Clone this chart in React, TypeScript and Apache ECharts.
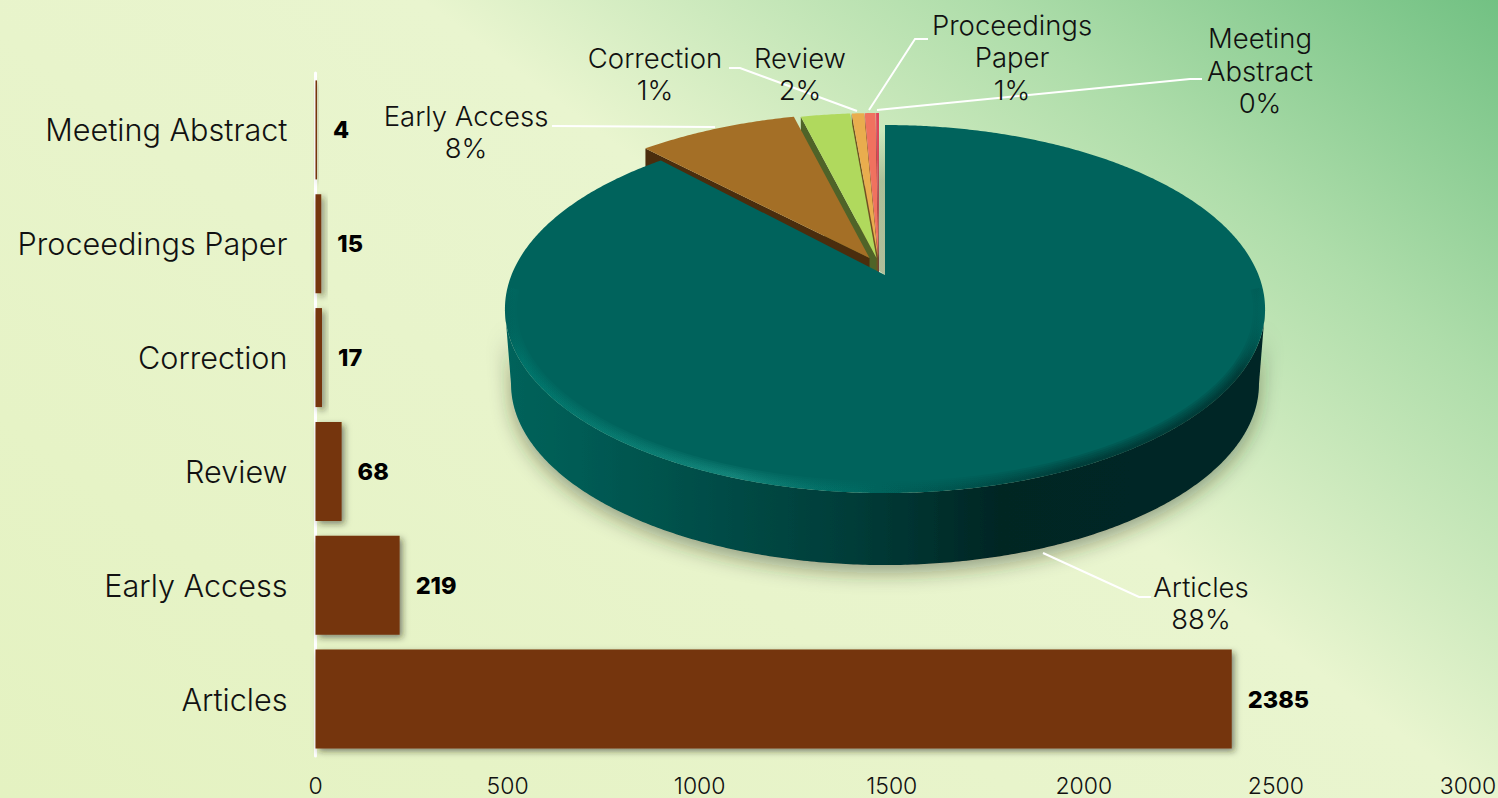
import React, { useEffect, useRef } from "react";
import * as echarts from "echarts";

// ---- data ----
const categories = ["Articles", "Early Access", "Review", "Correction", "Proceedings Paper", "Meeting Abstract"];
const documentCounts = [2385, 219, 68, 17, 15, 4];
const pieLabels = ["Articles\n88%", "Early Access\n8%", "Review\n2%", "Correction\n1%", "Proceedings\nPaper\n1%", "Meeting\nAbstract\n0%"];
const axisMax = 3000;
const axisStep = 500;

// ---- styles & layout ----
const FONT = "Inter, Lato, sans-serif";
const sliceTop = ["#00635c", "#a46f26", "#b0d95d", "#e9ad4e", "#f0725f", "#e0445c"];
const sliceWall = ["#003f3b", "#4a2d0d", "#4f6328", "#6e5222", "#7d3c30", "#7a2530"];
const sliceShift = [0, -15.5, -8.5, -7, -6.5, -6];
const labelCenter = [[1201, 603], [466, 132], [800, 74], [655, 74], [1012, 57], [1260, 70.5]];
const leaders = [
  [[1043, 553], [1139, 597], [1151, 597]],
  [[552, 126], [715, 127]],
  [],
  [[729, 68], [740, 68], [857, 111]],
  [[928, 39], [915, 39], [869, 110]],
  [[877, 110], [1190, 79], [1202, 79]],
];

const CX = 885, APEX_Y = 275, R = 373.5, K = 177.7, P = 0.185;
const BOTTOM_SCALE = 0.984, DEPTH = 75.5;

const total = documentCounts.reduce((a, b) => a + b, 0);
const startAngles: number[] = [];
documentCounts.reduce((acc, v, i) => {
  startAngles[i] = acc;
  return acc + (v / total) * 360;
}, 0);

function project(deg: number, level: 0 | 1, dx = 0, dy = 0): number[] {
  const t = (deg * Math.PI) / 180;
  const u = Math.sin(t), v = -Math.cos(t);
  const s = 1 / (1 - P * v);
  const scale = level ? BOTTOM_SCALE : 1;
  return [CX + R * u * s * scale + dx, APEX_Y + K * v * s * scale + (level ? DEPTH : 0) + dy];
}

function arc(a: number, b: number, level: 0 | 1, dx = 0, dy = 0) {
  const pts: number[][] = [];
  const n = Math.max(2, Math.ceil(Math.abs(b - a) * 2));
  for (let i = 0; i <= n; i++) pts.push(project(a + ((b - a) * i) / n, level, dx, dy));
  return pts;
}

const renderSlice = (params: any, api: any) => {
  const i = params.dataIndex;
  const start = startAngles[i];
  const end = start + (api.value(0) / total) * 360;
  const dx = sliceShift[i];
  const children: any[] = [];
  const poly = (points: number[][], style: any, z2: number) =>
    children.push({ type: "polygon", shape: { points }, style, z2, silent: true });

  if (i === 0) {
    const leftExt = 259.3, rightExt = 100.7;
    const front = arc(rightExt, leftExt, 0);
    const frontBottom = arc(leftExt, rightExt, 1);
    poly([...front, ...frontBottom], {
      fill: new echarts.graphic.LinearGradient(1, 0, 0, 0, [
        { offset: 0, color: "#012826" },
        { offset: 0.35, color: "#012624" },
        { offset: 0.55, color: "#003d39" },
        { offset: 0.8, color: "#00534d" },
        { offset: 1, color: "#00635b" },
      ]),
      shadowBlur: 20,
      shadowColor: "rgba(40,50,20,0.42)",
      shadowOffsetX: 0,
      shadowOffsetY: 8,
    }, 20);
    // shaded gap beside the big slice's straight edge
    poly([[CX - 7, 130], [CX, 130], [CX, APEX_Y], [CX - 7, APEX_Y - 5]], {
      fill: new echarts.graphic.LinearGradient(0, 0, 0, 1, [
        { offset: 0, color: "rgba(90,100,70,0)" },
        { offset: 0.35, color: "rgba(90,100,70,0.33)" },
        { offset: 1, color: "rgba(90,100,70,0.36)" },
      ]),
    }, 13);
    poly([[CX, APEX_Y], ...arc(start, end, 0)], { fill: sliceTop[0] }, 21);
    // soft bevel along the front rim, tapering out at both silhouette ends
    const rim = arc(94, 266, 0);
    const bevel = (width: number, alpha: number) =>
      children.push({
        type: "polyline",
        shape: {
          points: rim.map(([x, y]) => {
            const inset = width / 2;
            return [CX + (x - CX) * (1 - inset / 380), 309 + (y - 309) * (1 - inset / 184)];
          }),
        },
        style: {
          fill: "none",
          lineWidth: width,
          stroke: new echarts.graphic.LinearGradient(0, 0, 1, 0, [
            { offset: 0, color: `rgba(0,135,122,0)` },
            { offset: 0.02, color: `rgba(0,135,122,${alpha * 0.6})` },
            { offset: 0.1, color: `rgba(10,135,122,${alpha * 0.8})` },
            { offset: 0.3, color: `rgba(30,150,138,${alpha})` },
            { offset: 0.46, color: `rgba(0,120,110,${alpha * 0.4})` },
            { offset: 0.55, color: `rgba(0,60,56,${alpha * 0.25})` },
            { offset: 0.75, color: `rgba(0,40,38,${alpha})` },
            { offset: 0.97, color: `rgba(0,38,36,${alpha})` },
            { offset: 1, color: `rgba(0,38,36,0)` },
          ]),
        },
        z2: 22,
        silent: true,
      });
    [12, 10, 8, 6, 4.5, 3].forEach((w) => bevel(w, 0.15));
  } else {
    // inner radial wall is only visible where the big slice doesn't hide it
    const apex = [CX + dx, APEX_Y - 17];
    const outer = project(start, 0, dx, -12);
    poly([apex, outer, [outer[0], outer[1] + DEPTH], [apex[0], apex[1] + DEPTH]], { fill: sliceWall[i] }, 10 - i);
    poly([apex, ...arc(start, end, 0, dx, -12)], { fill: sliceTop[i] }, 12);
  }

  if (leaders[i].length) {
    children.push({
      type: "polyline",
      shape: { points: leaders[i] },
      style: { fill: "none", stroke: "#ffffff", lineWidth: 2 },
      z2: 30,
      silent: true,
    });
  }
  children.push({
    type: "text",
    x: labelCenter[i][0],
    y: labelCenter[i][1],
    style: {
      text: pieLabels[i],
      fill: "#111111",
      font: `300 27.5px ${FONT}`,
      lineHeight: 32.5,
      align: "center",
      verticalAlign: "middle",
    },
    z2: 40,
    silent: true,
  });
  return { type: "group", children };
};

export default function App() {
  const ref = useRef<HTMLDivElement>(null);
  useEffect(() => {
    document.body.style.margin = "0";
    const chart = echarts.init(ref.current!, undefined, { renderer: "svg" });
    chart.setOption({
      animation: false,
      backgroundColor: {
        type: "linear",
        global: true,
        x: 1498,
        y: 0,
        x2: 1498 - 0.6 * 1537,
        y2: 0.8 * 1537,
        colorStops: [
          { offset: 0, color: "#72c183" },
          { offset: 0.2, color: "#aeddaa" },
          { offset: 0.42, color: "#e9f5cf" },
          { offset: 0.6, color: "#e8f4cb" },
          { offset: 1, color: "#e4f2c1" },
        ],
      },
      grid: { left: 315.5, right: 30, top: 73, bottom: 42, containLabel: false, outerBoundsMode: "none" },
      xAxis: {
        type: "value",
        min: 0,
        max: axisMax,
        interval: axisStep,
        splitLine: { show: false },
        axisLine: { show: false },
        axisTick: { show: false },
        axisLabel: {
          color: "#111111",
          fontFamily: FONT,
          fontWeight: 300,
          fontSize: 23,
          margin: 18,
          formatter: (v: number) => String(v),
          hideOverlap: false,
        },
      },
      yAxis: {
        type: "category",
        data: categories,
        offset: 1,
        axisTick: { show: false },
        axisLine: { show: true, lineStyle: { color: "#ffffff", width: 3 } },
        axisLabel: { color: "#111111", fontFamily: FONT, fontWeight: 300, fontSize: 30.6, margin: 27 },
      },
      series: [
        {
          type: "bar",
          data: documentCounts,
          barWidth: 99,
          itemStyle: {
            color: "#74350b",
            shadowBlur: 6,
            shadowColor: "rgba(30,30,10,0.5)",
            shadowOffsetX: 3,
            shadowOffsetY: 3,
          },
          label: {
            show: true,
            position: "right",
            distance: 16,
            color: "#000000",
            fontFamily: FONT,
            fontWeight: 800,
            fontSize: 23.5,
          },
        },
        {
          type: "custom",
          coordinateSystem: "none",
          silent: true,
          z: 5,
          data: documentCounts.map((v) => [v]),
          renderItem: renderSlice,
        },
      ],
    });
    return () => chart.dispose();
  }, []);
  return <div ref={ref} style={{ position: "fixed", left: 0, top: 0, width: 1498, height: 798 }} />;
}
